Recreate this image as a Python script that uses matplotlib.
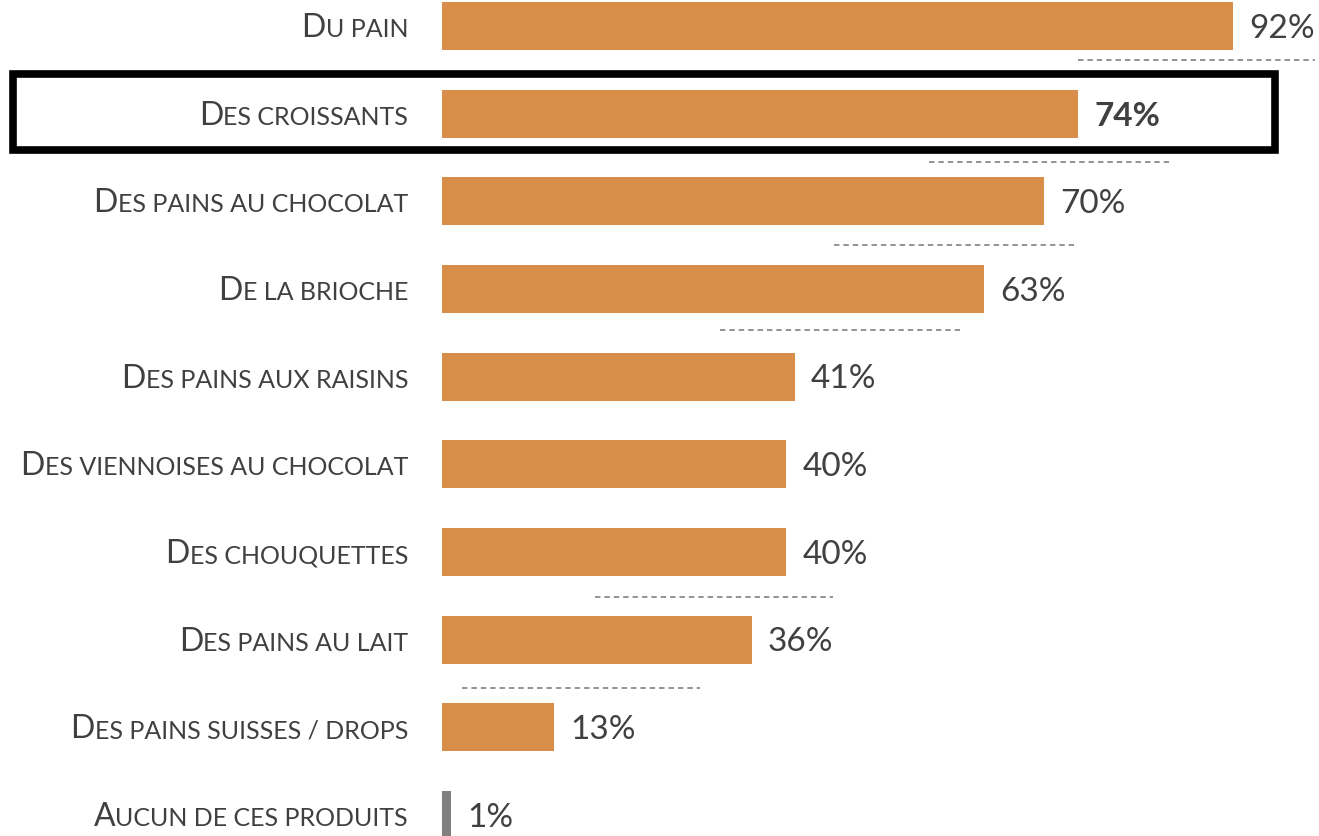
import numpy as np
import matplotlib.pyplot as plt
from matplotlib.patches import Rectangle

plt.rcParams["font.family"] = ["Lato", "DejaVu Sans"]

# données
labels = ["Du pain", "Des croissants", "Des pains au chocolat", "De la brioche",
          "Des pains aux raisins", "Des viennoises au chocolat", "Des chouquettes",
          "Des pains au lait", "Des pains suisses / drops", "Aucun de ces produits"]
values = [92, 74, 70, 63, 41, 40, 40, 36, 13, 1]
highlight = 1  # index mis en avant
# segments pointillés (position y, début %, fin %)
dash_y = [0.388, 1.551, 2.498, 3.468, 6.513, 7.551]
dash_start = [74.0, 56.6, 45.6, 32.3, 17.8, 2.3]
dash_end = [101.5, 84.5, 73.5, 60.2, 45.5, 30.0]

W, H = 1319, 836
fig = plt.figure(figsize=(W / 100, H / 100), dpi=100)
ax = fig.add_axes([442 / W, 0, 1 - 442 / W, 1])
ax.set_xlim(0, (W - 442) / 8.6)
ax.set_ylim(9 + 21 / 87.67, -26 / 87.67)
ax.axis("off")

orange = "#D88D48"
grey = "#808080"
txt = "#404040"
n = len(values)
y = np.arange(n)
colors = [orange] * (n - 1) + [grey]
ax.barh(y, values, height=0.55, color=colors)

for yy, x0, x1 in zip(dash_y, dash_start, dash_end):
    ax.plot([x0, x1], [yy, yy], color="#8a8a8a", lw=1.3, ls=(0, (3, 2.2)), clip_on=False)

for i, v in enumerate(values):
    ax.text(v + 1.9, i + 0.03, f"{v}%", va="center", ha="left", fontsize=24,
            color=txt, fontweight="bold" if i == highlight else "normal")

# étiquettes en petites capitales
fig.canvas.draw()
r = fig.canvas.get_renderer()
x_right = 408 / W
big, small = 23, 18
for i, lab in enumerate(labels):
    yf = 1 - (26 + i * 87.67) / H
    rest = fig.text(x_right, yf, lab[1:].upper(), ha="right", va="baseline",
                    fontsize=small, color=txt)
    bb = rest.get_window_extent(r)
    fig.text(bb.x0 / W, yf, lab[0], ha="right", va="baseline", fontsize=big, color=txt)

# décaler la ligne de base pour centrer sur les barres
for t in fig.texts:
    x, yb = t.get_position()
    t.set_position((x, yb - 11 / H))

# cadre noir autour de la ligne mise en avant
fig.patches.append(Rectangle((13 / W, 1 - 150 / H), (1275 - 13) / W, (150 - 74) / H,
                             transform=fig.transFigure, fill=False, ec="black", lw=5.5))

fig.savefig("out.png", dpi=100)
